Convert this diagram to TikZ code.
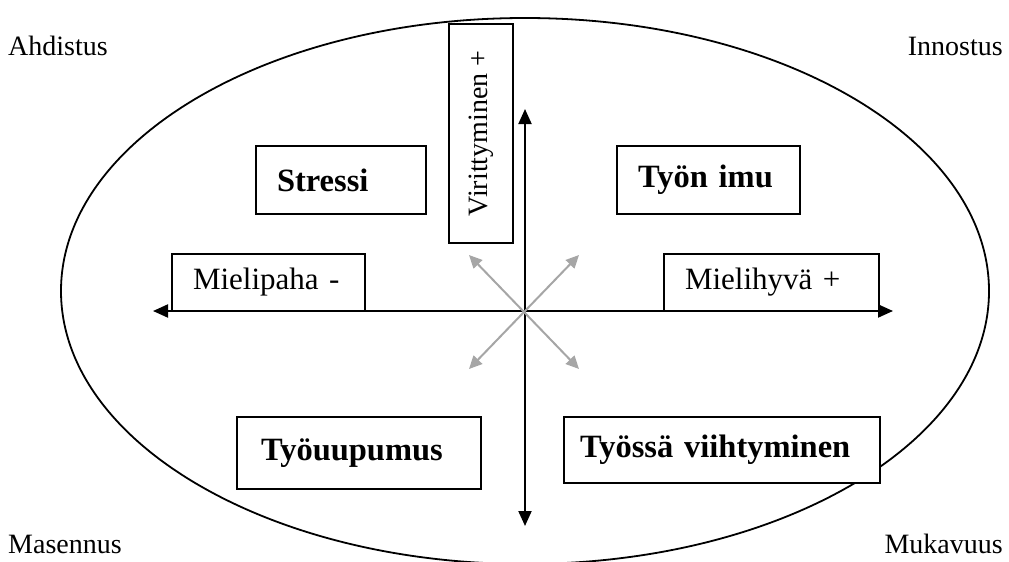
\documentclass[tikz,border=0pt]{standalone}
\usepackage{fontspec}
\setmainfont{Liberation Serif}
\usetikzlibrary{arrows.meta}

\begin{document}
\begin{tikzpicture}[x=1pt,y=-1pt,
  every node/.style={font=\fontsize{28}{33}\selectfont},
  box/.style={draw,fill=white,line width=1.4pt,inner ysep=0pt,align=left},
  bigtext/.style={font=\fontsize{32.5}{38}\selectfont\bfseries},
  midtext/.style={font=\fontsize{31}{36}\selectfont},
  axis/.style={line width=2pt,{Triangle[length=15pt,width=13pt]}-{Triangle[length=15pt,width=13pt]}},
  diag/.style={line width=2pt,black!35,{Triangle[length=13pt,width=12pt]}-{Triangle[length=13pt,width=12pt]}}]
  \useasboundingbox (0,0) rectangle (1009,562);

  % the outer ellipse
  \draw[line width=1.8pt] (525,291) ellipse [x radius=464, y radius=273];

  % corner labels
  \foreach \n/\a/\x/\y/\t in {ahd/base west/8/55/Ahdistus,inn/base east/1003/55/Innostus,
                              mas/base west/8/553/Masennus,muk/base east/1003/553/Mukavuus}
    \node[anchor=\a,inner sep=0pt] (\n) at (\x,\y) {\t};

  % the two axes
  \coordinate (xl) at (153,311);
  \coordinate (xr) at (893,311);
  \coordinate (yt) at (525,109);
  \coordinate (yb) at (525,526);
  \draw[axis] (xl) -- (xr);
  \draw[axis] (yt) -- (yb);

  % grey diagonals
  \coordinate (g1) at (469,255);
  \coordinate (g2) at (579,369);
  \coordinate (g3) at (579,255);
  \coordinate (g4) at (469,369);
  \foreach \s/\t in {g1/g2,g3/g4} \draw[diag] (\s) -- (\t);

  % axis labels
  \node[box,rotate=90,align=center,inner xsep=0pt,minimum width=219pt,minimum height=64pt] (vir) at (481,133.5) {Virittyminen +};
  \node[box,midtext,inner xsep=21pt,text width=151pt,minimum height=57pt] (pah) at (268.5,282.5) {Mielipaha -};
  \node[box,midtext,inner xsep=21pt,text width=173pt,minimum height=57pt] (hyv) at (771.5,282.5) {Mielihyvä +};

  % the four quadrants
  \node[box,bigtext,inner xsep=21pt,text width=128pt,minimum height=68pt] (str) at (341,180) {Stressi};
  \node[box,bigtext,inner xsep=21pt,text width=141pt,minimum height=68pt] (imu) at (708.5,180) {Työn imu};
  \node[box,bigtext,inner xsep=24pt,text width=196pt,minimum height=72pt] (uup) at (359,453) {Työuupumus};
  \node[box,bigtext,inner xsep=16pt,text width=284pt,minimum height=66pt] (vii) at (722,450) {Työssä viihtyminen};
\end{tikzpicture}
\end{document}
